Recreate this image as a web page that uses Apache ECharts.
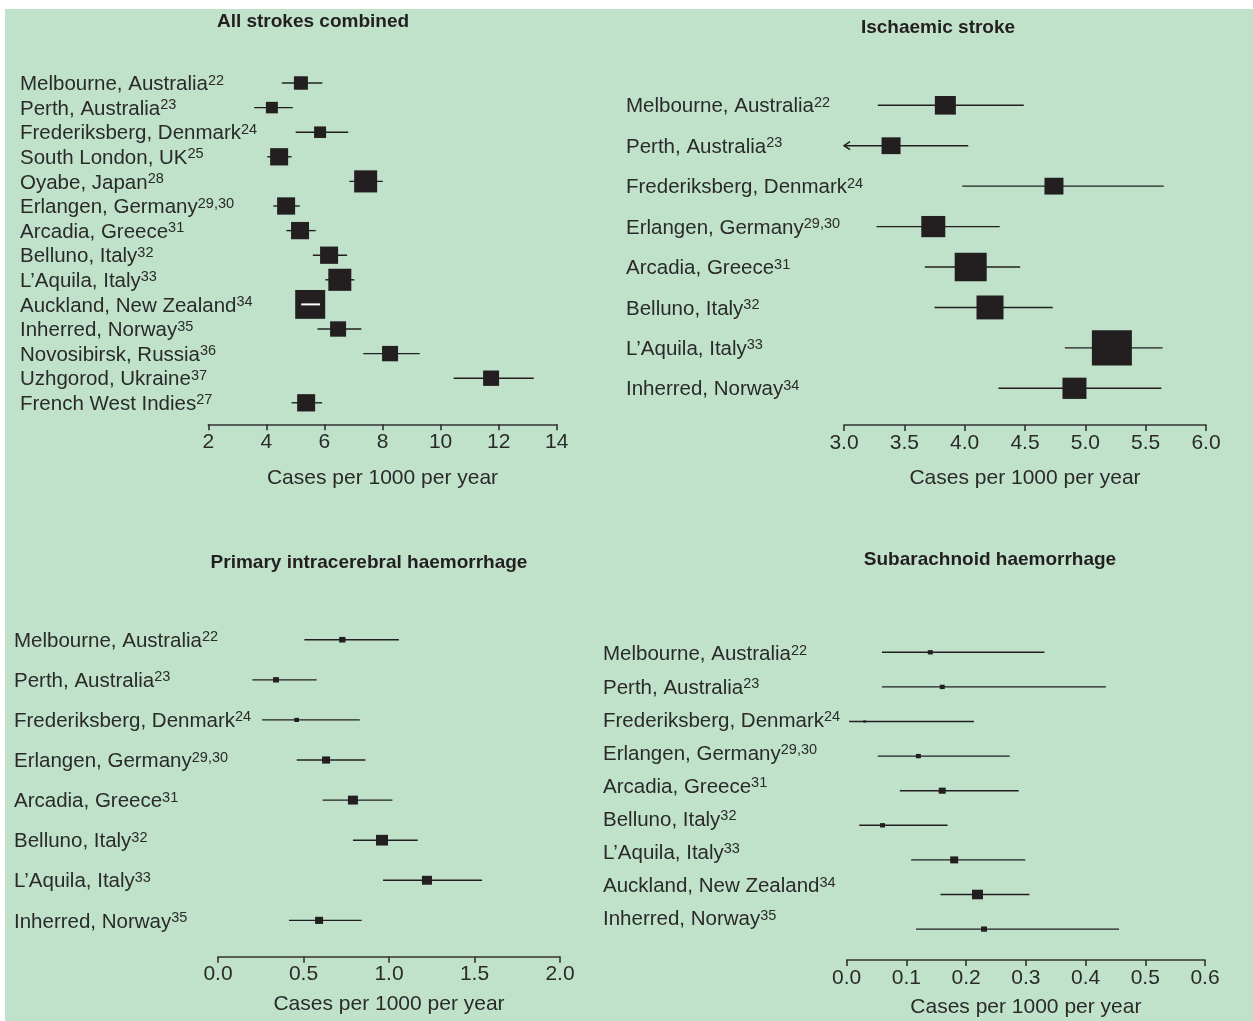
<!DOCTYPE html>
<html><head><meta charset="utf-8">
<script src="https://cdn.jsdelivr.net/npm/echarts@6/dist/echarts.min.js"></script>
<style>html,body{margin:0;padding:0;background:#fff}#c{width:1253px;height:1021px}</style>
</head><body><div id="c"></div>
<script>
// ---------- data ----------
const axisTitle = 'Cases per 1000 per year';
const panelTitles = ['All strokes combined', 'Ischaemic stroke', 'Primary intracerebral haemorrhage', 'Subarachnoid haemorrhage'];

// All strokes combined
const sites1 = ['Melbourne, Australia','Perth, Australia','Frederiksberg, Denmark','South London, UK','Oyabe, Japan','Erlangen, Germany','Arcadia, Greece','Belluno, Italy','L\u2019Aquila, Italy','Auckland, New Zealand','Inherred, Norway','Novosibirsk, Russia','Uzhgorod, Ukraine','French West Indies'];
const refs1  = ['22','23','24','25','28','29,30','31','32','33','34','35','36','37','27'];
const est1   = [5.19,4.19,5.85,4.44,7.42,4.68,5.16,6.16,6.53,5.51,6.47,8.26,11.74,5.37];
const lo1    = [4.53,3.58,5.01,4.03,6.86,4.24,4.69,5.60,6.03,5.20,5.76,7.34,10.45,4.87];
const hi1    = [5.93,4.91,6.82,4.87,8.01,5.15,5.70,6.78,7.03,5.85,7.27,9.28,13.21,5.92];
const wt1    = [14,12,12,18,23,18,18,18,23,30,16,16,16,18];
const ticks1 = [2,4,6,8,10,12,14];

// Ischaemic stroke
const sites2 = ['Melbourne, Australia','Perth, Australia','Frederiksberg, Denmark','Erlangen, Germany','Arcadia, Greece','Belluno, Italy','L\u2019Aquila, Italy','Inherred, Norway'];
const refs2  = ['22','23','24','29,30','31','32','33','34'];
const est2   = [3.84,3.39,4.74,3.74,4.05,4.21,5.22,4.91];
const lo2    = [3.28,2.90,3.98,3.27,3.67,3.75,4.83,4.28];
const hi2    = [4.49,4.03,5.65,4.29,4.46,4.73,5.64,5.63];
const wt2    = [21,19,19,24,32,27,40,24];
const ticks2 = [3.0,3.5,4.0,4.5,5.0,5.5,6.0];

// Primary intracerebral haemorrhage
const sites3 = ['Melbourne, Australia','Perth, Australia','Frederiksberg, Denmark','Erlangen, Germany','Arcadia, Greece','Belluno, Italy','L\u2019Aquila, Italy','Inherred, Norway'];
const refs3  = ['22','23','24','29,30','31','32','33','35'];
const est3   = [0.727,0.339,0.460,0.632,0.789,0.959,1.222,0.591];
const lo3    = [0.505,0.201,0.257,0.460,0.612,0.789,0.965,0.415];
const hi3    = [1.058,0.577,0.829,0.862,1.020,1.168,1.544,0.840];
const wt3    = [6.3,6,4.7,8,10,12,10,8];
const ticks3 = [0.0,0.5,1.0,1.5,2.0];

// Subarachnoid haemorrhage
const sites4 = ['Melbourne, Australia','Perth, Australia','Frederiksberg, Denmark','Erlangen, Germany','Arcadia, Greece','Belluno, Italy','L\u2019Aquila, Italy','Auckland, New Zealand','Inherred, Norway'];
const refs4  = ['22','23','24','29,30','31','32','33','34','35'];
const est4   = [0.140,0.160,0.030,0.120,0.160,0.060,0.180,0.219,0.230];
const lo4    = [0.059,0.059,0.004,0.052,0.089,0.021,0.108,0.157,0.116];
const hi4    = [0.331,0.434,0.213,0.273,0.288,0.169,0.299,0.306,0.456];
const wt4    = [5,5,2.6,5,7,5,8,11,6];
const ticks4 = [0.0,0.1,0.2,0.3,0.4,0.5,0.6];

// ---------- style ----------
const INK = '#231f20';
const TXT = '#2a2a2a';
const FONT = '"Liberation Sans", Arial, sans-serif';

function rows(est, lo, hi, wt) {
  return est.map((v, i) => [v, lo[i], hi[i], i, wt[i]]);
}

function makeRender(aspect) {
  return function (params, api) {
    const cat = api.value(3);
    const c = api.coord([api.value(0), cat]);
    const l = api.coord([api.value(1), cat]);
    const h = api.coord([api.value(2), cat]);
    const cs = params.coordSys;
    let x1 = l[0], x2 = h[0];
    let clipped = false;
    if (x1 < cs.x) { x1 = cs.x; clipped = true; }
    const w = api.value(4), ht = w / aspect;
    const y = c[1];
    const children = [
      {type: 'line', shape: {x1: x1, y1: y, x2: x2, y2: y}, style: {stroke: INK, lineWidth: 1.4}},
      {type: 'rect', shape: {x: c[0] - w / 2, y: y - ht / 2, width: w, height: ht}, style: {fill: INK}}
    ];
    if (x1 > c[0] - w / 2 && x2 < c[0] + w / 2) {
      children.push({type: 'line', shape: {x1: x1, y1: y, x2: x2, y2: y}, style: {stroke: '#ffffff', lineWidth: 2}});
    }
    if (clipped) {
      children.push({type: 'polyline', shape: {points: [[x1 + 6, y - 4], [x1, y], [x1 + 6, y + 4]]}, style: {stroke: INK, fill: null, lineWidth: 1.5}});
    }
    return {type: 'group', children: children};
  };
}

const richLabel = {
  n: {fontSize: 20.5, color: TXT, fontFamily: FONT, padding: [3, 0, 0, 0]},
  s: {fontSize: 14.5, color: TXT, fontFamily: FONT, padding: [0, 0, 5, 0]}
};

function catAxis(gridIndex, sites, refs, margin, showLabel) {
  return {
    type: 'category', gridIndex: gridIndex, data: sites, inverse: true,
    axisLine: {show: false}, axisTick: {show: false}, splitLine: {show: false},
    axisLabel: {
      show: showLabel, align: 'left', margin: margin,
      formatter: (v, i) => '{n|' + v + '}{s|' + refs[i] + '}',
      rich: richLabel
    }
  };
}

function valAxis(gridIndex, ticks, offset, nameGap, dec) {
  return {
    type: 'value', gridIndex: gridIndex,
    min: ticks[0], max: ticks[ticks.length - 1], interval: ticks[1] - ticks[0],
    offset: offset,
    name: axisTitle, nameLocation: 'middle', nameGap: nameGap,
    nameTextStyle: {fontSize: 21, color: TXT, fontFamily: FONT},
    axisLine: {show: true, lineStyle: {color: '#333', width: 1.6}},
    axisTick: {show: true, inside: false, length: 6, lineStyle: {color: '#333', width: 1.6}},
    splitLine: {show: false},
    axisLabel: {margin: 7.5, fontSize: 21, color: TXT, fontFamily: FONT,
      formatter: v => dec ? v.toFixed(1) : String(v)}
  };
}

function titleText(x, y, t) {
  return {type: 'text', x: x, y: y, z: 10,
    style: {text: t, fontSize: 19, fontWeight: 'bold', fontFamily: FONT, fill: INK, align: 'center', verticalAlign: 'middle'}};
}

const chart = echarts.init(document.getElementById('c'), null, {renderer: 'canvas'});
chart.setOption({
  animation: false,
  backgroundColor: '#ffffff',
  graphic: [
    {type: 'rect', z: -10, shape: {x: 5, y: 9, width: 1248, height: 1012}, style: {fill: '#c0e2cb'}},
    titleText(313, 22, panelTitles[0]),
    titleText(938, 28, panelTitles[1]),
    titleText(369, 563, panelTitles[2]),
    titleText(990, 560, panelTitles[3])
  ],
  grid: [
    {left: 208.3, top: 70.7, width: 348.4, height: 344.4},
    {left: 844, top: 85.1, width: 362, height: 323.4},
    {left: 218, top: 619.7, width: 342, height: 320.7},
    {left: 846.7, top: 635, width: 358.3, height: 311.4},
    {left: 846.7, top: 636.75, width: 358.3, height: 297.9}
  ],
  xAxis: [
    valAxis(0, ticks1, 9.2, 43, false),
    valAxis(1, ticks2, 16.5, 42.5, true),
    valAxis(2, ticks3, 16.3, 37.5, true),
    valAxis(3, ticks4, 13.6, 37, true),
    {type: 'value', gridIndex: 4, show: false, min: 0, max: 1}
  ],
  yAxis: [
    catAxis(0, sites1, refs1, 188.3, true),
    catAxis(1, sites2, refs2, 218, true),
    catAxis(2, sites3, refs3, 204, true),
    catAxis(3, sites4, refs4, 0, false),
    catAxis(4, sites4, refs4, 243.7, true)
  ],
  series: [
    {type: 'custom', xAxisIndex: 0, yAxisIndex: 0, clip: false, renderItem: makeRender(1.04), encode: {x: [0, 1, 2], y: 3}, data: rows(est1, lo1, hi1, wt1)},
    {type: 'custom', xAxisIndex: 1, yAxisIndex: 1, clip: false, renderItem: makeRender(1.13), encode: {x: [0, 1, 2], y: 3}, data: rows(est2, lo2, hi2, wt2)},
    {type: 'custom', xAxisIndex: 2, yAxisIndex: 2, clip: false, renderItem: makeRender(1.12), encode: {x: [0, 1, 2], y: 3}, data: rows(est3, lo3, hi3, wt3)},
    {type: 'custom', xAxisIndex: 3, yAxisIndex: 3, clip: false, renderItem: makeRender(1.15), encode: {x: [0, 1, 2], y: 3}, data: rows(est4, lo4, hi4, wt4)}
  ]
});
</script>
</body></html>
